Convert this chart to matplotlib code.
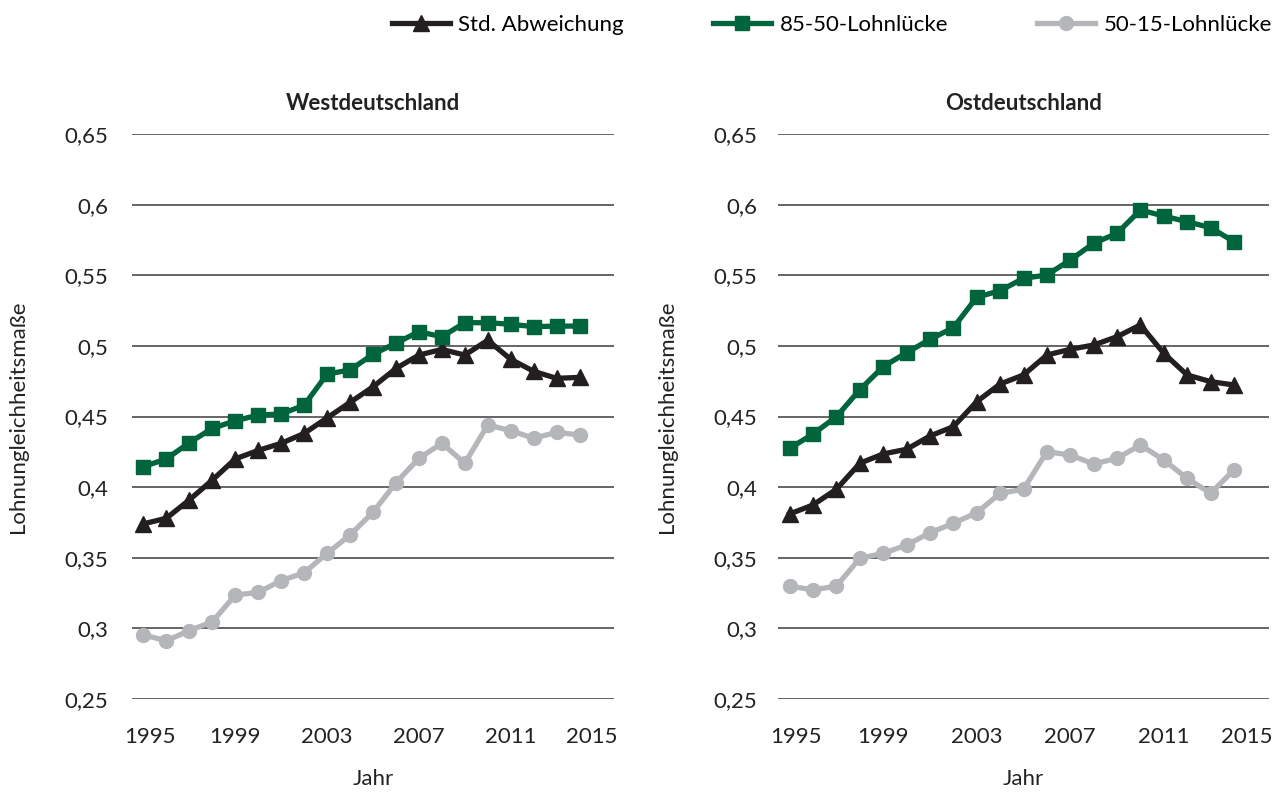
import matplotlib.pyplot as plt
import matplotlib.transforms as mtransforms
import numpy as np

plt.rcParams['font.family'] = ['Lato', 'DejaVu Sans']

years = np.arange(1995, 2015)
xticks = [1995, 1999, 2003, 2007, 2011, 2015]
yticks = [0.25, 0.3, 0.35, 0.4, 0.45, 0.5, 0.55, 0.6, 0.65]
ylabels = ['0,25', '0,3', '0,35', '0,4', '0,45', '0,5', '0,55', '0,6', '0,65']

# Westdeutschland
west_std = [0.374, 0.378, 0.391, 0.405, 0.420, 0.426, 0.431, 0.438, 0.449, 0.460,
            0.471, 0.484, 0.4935, 0.4975, 0.4935, 0.504, 0.4905, 0.482, 0.477, 0.4777]
west_8550 = [0.4145, 0.420, 0.4315, 0.4416, 0.447, 0.451, 0.4518, 0.458, 0.480, 0.483,
             0.494, 0.502, 0.510, 0.5065, 0.5164, 0.5164, 0.5153, 0.5136, 0.514, 0.514]
west_5015 = [0.2953, 0.2913, 0.2984, 0.3047, 0.3236, 0.3255, 0.3338, 0.3394, 0.3531, 0.3661,
             0.3822, 0.4031, 0.4204, 0.431, 0.4169, 0.444, 0.440, 0.4346, 0.4388, 0.4369]

# Ostdeutschland
east_std = [0.381, 0.3874, 0.3985, 0.4169, 0.4235, 0.4268, 0.4362, 0.4428, 0.4605, 0.473,
            0.4794, 0.4935, 0.4976, 0.5006, 0.5065, 0.5148, 0.4947, 0.4794, 0.4747, 0.4723]
east_8550 = [0.4275, 0.4376, 0.4499, 0.469, 0.4853, 0.4952, 0.5046, 0.5129, 0.5344, 0.5391,
             0.5478, 0.5502, 0.5608, 0.5726, 0.5797, 0.5962, 0.5919, 0.5879, 0.5837, 0.5738]
east_5015 = [0.330, 0.3272, 0.330, 0.3496, 0.3531, 0.359, 0.3677, 0.3744, 0.3819, 0.3956,
             0.3985, 0.4251, 0.4227, 0.4164, 0.4204, 0.4298, 0.4192, 0.4062, 0.3956, 0.4121]

c_black = '#231f20'
c_green = '#00643c'
c_gray = '#b5b6ba'
c_text = '#222222'
fs = 16

fig = plt.figure(figsize=(12.79, 7.94), dpi=100)
ax_w = fig.add_axes([132/1279, 1-699/794, 482/1279, 565/794])
ax_e = fig.add_axes([778/1279, 1-699/794, 491/1279, 565/794])

panels = [(ax_w, 'Westdeutschland', west_std, west_8550, west_5015, 17),
          (ax_e, 'Ostdeutschland', east_std, east_8550, east_5015, 15)]

for ax, title, s_std, s_85, s_15, ypad in panels:
    for y in yticks:
        ax.axhline(y, color='#595959', lw=1.3, zorder=1)
    ax.plot(years, s_15, color=c_gray, lw=3.8, marker='o', ms=10, zorder=3,
            label='50-15-Lohnlücke')
    ax.plot(years, s_std, color=c_black, lw=3.8, marker='^', ms=11, zorder=4,
            label='Std. Abweichung')
    ax.plot(years, s_85, color=c_green, lw=3.8, marker='s', ms=10, zorder=5,
            label='85-50-Lohnlücke')
    ax.set_xlim(1994.5, 2015.5)
    ax.set_ylim(0.25, 0.65)
    ax.set_yticks(yticks)
    ax.set_yticklabels(ylabels)
    ax.set_xticks(xticks)
    ax.set_xticklabels([str(t) for t in xticks])
    for sp in ax.spines.values():
        sp.set_visible(False)
    ax.tick_params(length=0, labelsize=fs, colors=c_text)
    ax.tick_params(axis='y', pad=ypad)
    ax.tick_params(axis='x', pad=20)
    labs = ax.get_xticklabels()
    labs[0].set_transform(labs[0].get_transform() +
                          mtransforms.ScaledTranslation(6/100, 0, fig.dpi_scale_trans))
    labs[-1].set_transform(labs[-1].get_transform() +
                           mtransforms.ScaledTranslation(-11/100, 0, fig.dpi_scale_trans))
    ax.set_title(title, fontsize=fs, fontweight='bold', pad=17, color=c_text)
    ax.set_xlabel('Jahr', fontsize=fs, labelpad=16, color=c_text)
    ax.set_ylabel('Lohnungleichheitsmaße', fontsize=fs, labelpad=26, color=c_text)

h, l = ax_w.get_legend_handles_labels()
order = [1, 2, 0]
fig.legend([h[i] for i in order], [l[i] for i in order], loc='center right',
           bbox_to_anchor=(1272/1279, 1-25/794), ncol=3, frameon=False,
           fontsize=fs, handlelength=2.6, handletextpad=0.4, columnspacing=4.0,
           borderaxespad=0, borderpad=0)

fig.savefig('out.png', dpi=100)
